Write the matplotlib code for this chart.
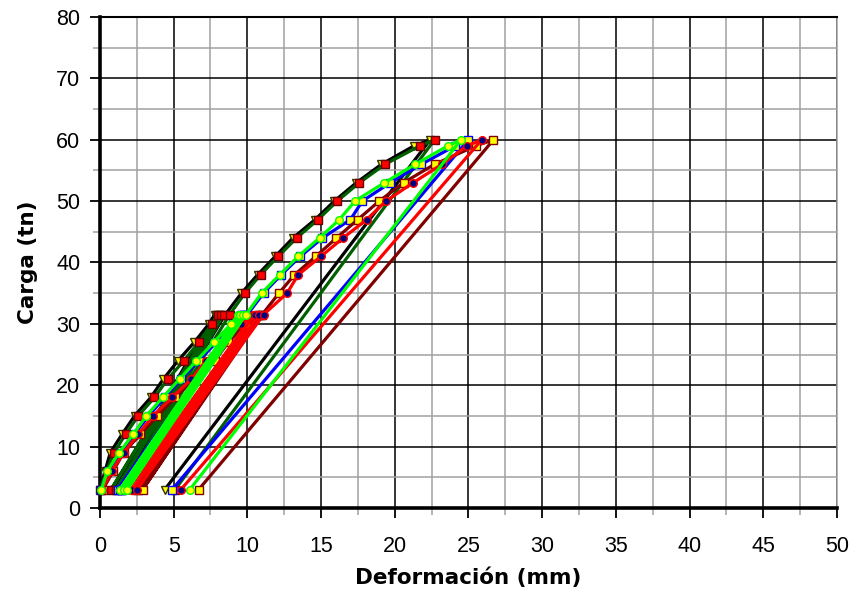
import numpy as np
import matplotlib
matplotlib.use("Agg")
import matplotlib.pyplot as plt
from matplotlib.ticker import MultipleLocator

plt.rcParams['font.family'] = ['Liberation Sans', 'DejaVu Sans']

# load sequence (tn): loading to 31.5, three unload/reload cycles, then to 60 and unload
carga = [3, 6, 9, 12, 15, 18, 21, 24, 27, 30, 31.5, 3, 31.5, 3, 31.5, 3, 31.5,
         35, 38, 41, 44, 47, 50, 53, 56, 59, 60, 3]

# deformation (mm) read for each test
def_black = [0.0, 0.35, 0.7, 1.5, 2.35, 3.45, 4.3, 5.3, 6.4, 7.4, 7.8, 0.9, 7.9, 1.05, 8.1, 1.25, 8.5,
             9.6, 10.7, 11.9, 13.1, 14.6, 15.9, 17.4, 19.1, 21.3, 22.4, 4.4]
def_dkgreen = [0.0, 0.45, 0.95, 1.74, 2.6, 3.7, 4.6, 5.7, 6.7, 7.6, 8.0, 0.75, 8.2, 1.1, 8.4, 1.5, 8.8,
               9.84, 10.9, 12.1, 13.35, 14.8, 16.1, 17.6, 19.35, 21.7, 22.7, 5.1]
def_blue = [0.05, 0.55, 1.4, 2.35, 3.3, 4.4, 5.5, 6.7, 7.9, 9.0, 9.6, 1.2, 9.7, 1.35, 9.8, 1.5, 10.0,
            11.1, 12.3, 13.6, 15.1, 17.0, 17.8, 19.7, 21.8, 24.1, 25.0, 4.9]
def_maroon = [0.2, 0.9, 1.6, 2.75, 3.9, 5.1, 6.4, 7.8, 8.7, 9.9, 10.7, 2.4, 10.8, 2.6, 10.9, 2.9, 11.0,
              12.15, 13.2, 14.65, 16.05, 17.5, 18.95, 20.6, 22.7, 25.5, 26.7, 6.7]
def_red = [0.15, 0.8, 1.6, 2.6, 3.6, 4.9, 6.2, 7.2, 8.4, 9.6, 10.4, 1.9, 10.5, 2.2, 10.8, 2.5, 11.1,
           12.7, 13.45, 15.0, 16.5, 18.1, 19.4, 21.25, 23.2, 24.9, 25.9, 5.5]
def_lime = [0.1, 0.5, 1.3, 2.25, 3.15, 4.25, 5.4, 6.55, 7.73, 8.9, 9.4, 1.36, 9.5, 1.6, 9.7, 1.85, 9.9,
            10.97, 12.2, 13.45, 14.9, 16.25, 17.3, 19.3, 21.4, 23.6, 24.5, 6.1]

series = [
    (def_black, 'black', 'v', '#ffff00', '#333300'),
    (def_dkgreen, '#006000', 's', '#ff0000', '#660000'),
    (def_blue, '#0000ff', 's', '#ffff00', '#0000ff'),
    (def_maroon, '#800000', 's', '#ffff00', '#800000'),
    (def_red, '#ff0000', 'o', '#000080', '#ff0000'),
    (def_lime, '#00ff00', 'o', '#ffff00', '#00ff00'),
]

fig = plt.figure(figsize=(8.54, 5.99), dpi=100)
ax = fig.add_axes([0.117, 0.152, 0.863, 0.8196])

for i, (xs, lc, mk, mfc, mec) in enumerate(series):
    ax.plot(xs, carga, color=lc, lw=2.3, marker=mk, ms=5.5, mfc=mfc, mec=mec,
            mew=1.0, zorder=3 + i, clip_on=False)

ax.set_xlim(0, 50)
ax.set_ylim(0, 80)
ax.xaxis.set_major_locator(MultipleLocator(5))
ax.xaxis.set_minor_locator(MultipleLocator(2.5))
ax.yaxis.set_major_locator(MultipleLocator(10))
ax.yaxis.set_minor_locator(MultipleLocator(5))

ax.grid(which='major', color='black', lw=1.1, zorder=0)
ax.grid(which='minor', color='#a0a0a0', lw=1.1, zorder=0)
ax.set_axisbelow(True)

ax.tick_params(which='major', direction='out', length=7, width=1.3, colors='black',
               labelsize=15.5)
ax.tick_params(axis='x', which='major', pad=13)
ax.tick_params(axis='y', which='major', pad=7)
ax.tick_params(which='minor', direction='out', length=5, width=1.1, color='#a0a0a0')

for side in ['left', 'bottom']:
    ax.spines[side].set_linewidth(2.6)
ax.spines['top'].set_linewidth(1.5)
ax.spines['right'].set_linewidth(1.1)
ax.spines['right'].set_color('#a0a0a0')

ax.set_xlabel('Deformación (mm)', fontsize=15.5, fontweight='bold', family='DejaVu Sans')
ax.set_ylabel('Carga (tn)', fontsize=15.5, fontweight='bold', family='DejaVu Sans')
ax.xaxis.set_label_coords(0.5, -0.1426)
ax.xaxis.label.set_va('center')
ax.yaxis.set_label_coords(-0.0977, 0.5)
ax.yaxis.label.set_va('center')

fig.savefig('out.png', dpi=100)
